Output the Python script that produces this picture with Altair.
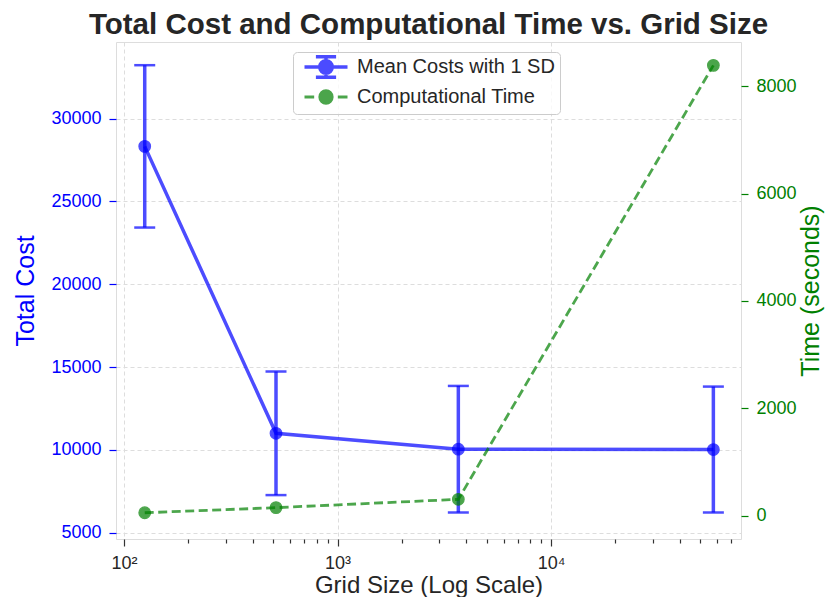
import altair as alt
import pandas as pd

# ---- data ----
grid_sizes = [125, 515, 3680, 57600]
mean_costs = [28320, 11000, 10040, 10020]
cost_sd = [4900, 3730, 3820, 3800]
comp_time = [55, 150, 305, 8390]

series_names = ["Mean Costs with 1 SD", "Computational Time"]
x_major = [100, 1000, 10000]
x_minor = [200, 300, 400, 500, 600, 700, 800, 900,
           2000, 3000, 4000, 5000, 6000, 7000, 8000, 9000,
           20000, 30000, 40000, 50000, 60000, 70000]
cost_ticks = [5000, 10000, 15000, 20000, 25000, 30000]
time_ticks = [0, 2000, 4000, 6000, 8000]

FONT = "Liberation Sans"
BLUE = "#0000ff"
GREEN = "#008000"
TXT = "#262626"

df = pd.DataFrame({
    "grid": grid_sizes,
    "cost": mean_costs,
    "sd": cost_sd,
    "time": comp_time,
})
df["lower"] = df["cost"] - df["sd"]
df["upper"] = df["cost"] + df["sd"]

major_test = "datum.value == 100 || datum.value == 1000 || datum.value == 10000"

x_enc = alt.X(
    "grid:Q",
    scale=alt.Scale(type="log", domain=[91.7, 77600], nice=False),
    axis=alt.Axis(
        values=x_major + x_minor,
        labelExpr="datum.value == 100 ? '10²' : datum.value == 1000 ? '10³' : datum.value == 10000 ? '10⁴' : ''",
        labelOverlap=False,
        tickSize={"condition": {"test": major_test, "value": 7}, "value": 4},
        tickColor="#333333",
        tickWidth=1.2,
        grid=True,
        gridOpacity={"condition": {"test": major_test, "value": 1}, "value": 0},
        gridDash=[4, 3],
        gridColor="#dddddd",
        domain=False,
        labelColor=TXT,
        labelFontSize=18,
        labelFont=FONT,
        labelPadding=8,
        title="Grid Size (Log Scale)",
        titleFont=FONT,
        titleFontSize=24,
        titleFontWeight="normal",
        titleColor=TXT,
        titleBaseline="alphabetic",
        titleY=53.5,
    ),
)

cost_axis = alt.Axis(
    values=cost_ticks,
    format="d",
    title="Total Cost",
    titleColor=BLUE,
    titleFont=FONT,
    titleFontSize=25,
    titleFontWeight="normal",
    titlePadding=12,
    labelColor=BLUE,
    labelFont=FONT,
    labelFontSize=18,
    labelPadding=8,
    tickColor=BLUE,
    tickSize=7,
    tickWidth=1.2,
    domain=False,
    grid=True,
    gridDash=[4, 3],
    gridColor="#dddddd",
)
cost_scale = alt.Scale(domain=[4620, 34620], nice=False, zero=False)

time_axis = alt.Axis(
    orient="right",
    values=time_ticks,
    format="d",
    title="Time (seconds)",
    titleColor=GREEN,
    titleFont=FONT,
    titleFontSize=25,
    titleFontWeight="normal",
    titleAngle=270,
    titleBaseline="top",
    titlePadding=2,
    labelColor=GREEN,
    labelFont=FONT,
    labelFontSize=18,
    labelPadding=8,
    tickColor=GREEN,
    tickSize=7,
    tickWidth=1.2,
    domain=False,
    grid=False,
)
time_scale = alt.Scale(domain=[-434, 8825], nice=False, zero=False)

blue_path = ("M-1,0H1M0,-0.48V0.48M-0.47,-0.48H0.47M-0.47,0.48H0.47"
             "M-0.29,0A0.29,0.29 0 1,0 0.29,0A0.29,0.29 0 1,0 -0.29,0Z")
green_path = ("M-1,0H-0.55M0.55,0H1"
              "M-0.29,0A0.29,0.29 0 1,0 0.29,0A0.29,0.29 0 1,0 -0.29,0Z")

is_time = "datum.value === '" + series_names[1] + "'"

color_enc = alt.Color(
    "series:N",
    scale=alt.Scale(domain=series_names, range=[BLUE, GREEN]),
    legend=alt.Legend(
        title=None,
        orient="none",
        legendX=177,
        legendY=10,
        labelFont=FONT,
        labelFontSize=20,
        labelColor=TXT,
        labelLimit=0,
        labelOffset=21,
        symbolOffset=18,
        symbolSize=1849,
        symbolType=alt.ExprRef(expr=is_time + " ? '" + green_path + "' : '" + blue_path + "'"),
        symbolStrokeWidth=alt.ExprRef(expr=is_time + " ? 2.8 : 3.5"),
        symbolFillColor=alt.ExprRef(expr="scale('color', datum.value)"),
        symbolStrokeColor=alt.ExprRef(expr="scale('color', datum.value)"),
        symbolOpacity=0.7,
        rowPadding=0,
        padding=5,
        fillColor="rgba(255,255,255,0.8)",
        strokeColor="#cccccc",
        cornerRadius=4,
    ),
)

base = alt.Chart(df)

cost_line = base.mark_line(strokeWidth=3.5, opacity=0.7).transform_calculate(
    series="'" + series_names[0] + "'"
).encode(x=x_enc, y=alt.Y("cost:Q", scale=cost_scale, axis=cost_axis), color=color_enc)

cost_rule = base.mark_rule(color=BLUE, strokeWidth=3.5, opacity=0.7).encode(
    x=x_enc, y=alt.Y("lower:Q", scale=cost_scale, axis=cost_axis), y2="upper:Q"
)
cap_low = base.mark_tick(color=BLUE, orient="horizontal", size=21, thickness=2.5, opacity=0.7).encode(
    x=x_enc, y=alt.Y("lower:Q", scale=cost_scale, axis=cost_axis)
)
cap_up = base.mark_tick(color=BLUE, orient="horizontal", size=21, thickness=2.5, opacity=0.7).encode(
    x=x_enc, y=alt.Y("upper:Q", scale=cost_scale, axis=cost_axis)
)
cost_pts = base.mark_circle(color=BLUE, size=135, opacity=0.7, stroke=BLUE, strokeWidth=1.2).encode(
    x=x_enc, y=alt.Y("cost:Q", scale=cost_scale, axis=cost_axis)
)

cost_layer = alt.layer(cost_line, cost_rule, cap_low, cap_up, cost_pts)

time_line = base.mark_line(strokeWidth=2.8, strokeDash=[9, 4.5], opacity=0.7).transform_calculate(
    series="'" + series_names[1] + "'"
).encode(x=x_enc, y=alt.Y("time:Q", scale=time_scale, axis=time_axis), color=color_enc)
time_pts = base.mark_circle(color=GREEN, size=135, opacity=0.7, stroke=GREEN, strokeWidth=1.2).encode(
    x=x_enc, y=alt.Y("time:Q", scale=time_scale, axis=time_axis)
)
time_layer = alt.layer(time_line, time_pts)

chart = alt.layer(cost_layer, time_layer).resolve_scale(y="independent").properties(
    width=625,
    height=497,
    padding={"left": 108, "top": 34, "right": 84, "bottom": 58},
    autosize=alt.AutoSizeParams(type="none"),
    title=alt.TitleParams(
        text="Total Cost and Computational Time vs. Grid Size",
        font=FONT,
        fontSize=29.5,
        fontWeight="bold",
        color=TXT,
        anchor="middle",
        frame="group",
        offset=2,
    ),
).configure_view(stroke="#333333", strokeWidth=1.5).configure(background="white")

chart.save("out.html", embed_options={"renderer": "svg", "actions": False})
